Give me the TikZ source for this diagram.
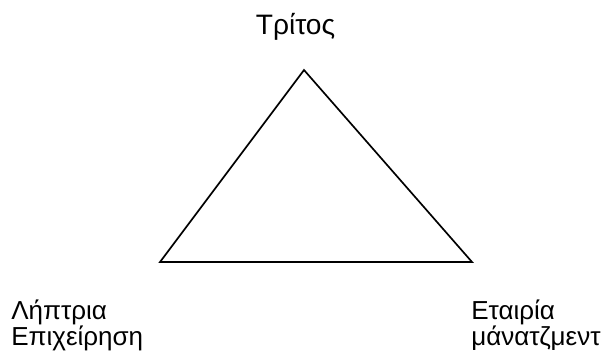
\documentclass[tikz,border=0pt]{standalone}
\usepackage{fontspec}
\setmainfont{Liberation Sans}
\tikzset{
	lbl/.style={inner sep=0pt, align=left, font=\fontsize{18.5}{17.8}\selectfont},
}
\begin{document}
\begin{tikzpicture}[x=0.025cm, y=-0.025cm]
	\useasboundingbox (0,0) rectangle (603,358);
	
	\coordinate (top) at (304,70);
	\coordinate (left) at (160,262);
	\coordinate (right) at (472,262);
	
	\draw[line width=1.2pt, line join=miter] (top) -- (left) -- (right) -- cycle;
	
	\node[lbl, anchor=base, font=\fontsize{20}{22}\selectfont] (tritos) at (295.5,34){Τρίτος};
	\node[lbl, anchor=base west] (lipt) at (11,345){Λήπτρια\\Επιχείρηση};
	\node[lbl, anchor=base west] (etair) at (471,345){Εταιρία\\μάνατζμεντ};
\end{tikzpicture}
\end{document}
